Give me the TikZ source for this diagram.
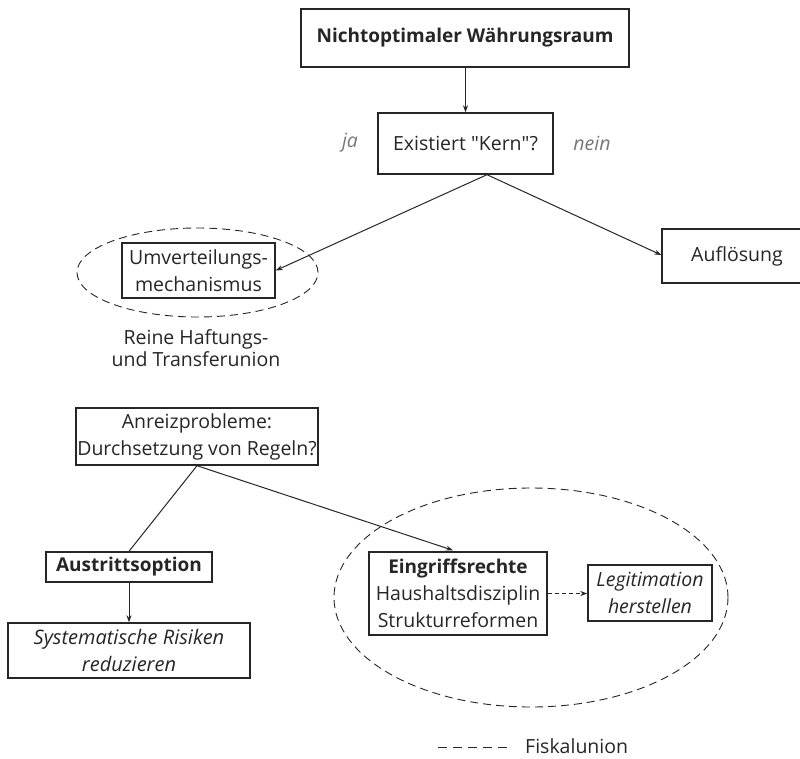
\documentclass[tikz,border=0pt]{standalone}
\usepackage{fontspec}
\setmainfont{Open Sans}
\usetikzlibrary{arrows.meta,calc,shapes.geometric}
\definecolor{ink}{HTML}{262626}
\definecolor{soft}{HTML}{777777}
\begin{document}
\begin{tikzpicture}[x=1pt,y=-1pt,
  every node/.style={text=ink},
  font=\fontsize{19.5}{27}\selectfont,
  boldtxt/.style={font=\fontsize{19}{27}\selectfont\bfseries},
  box/.style={draw=ink, line width=1.4pt, inner sep=0pt, align=center},
  conn/.style={draw=ink, line width=1pt},
  arr/.style={conn, -{Stealth[length=7pt,width=5pt]}},
  dashring/.style={draw=ink, line width=0.9pt, dash pattern=on 8pt off 5pt},
  answer/.style={text=soft, font=\fontsize{19.5}{27}\selectfont\itshape}]
\useasboundingbox (0,0) rectangle (800,758);
\fill[white] (0,0) rectangle (800,758);

% nodes
\node[box, boldtxt, minimum width=328pt, minimum height=58pt] (top) at (465,38) {Nichtoptimaler Währungsraum};
\node[box, minimum width=175pt, minimum height=61pt] (kern) at (465.5,143.5) {Existiert \textquotedbl Kern\textquotedbl ?};
\node[answer] (ja) at (350,143) {ja};
\node[answer] (nein) at (592,143) {nein};

\node[dashring, ellipse, minimum width=241pt, minimum height=89pt, inner sep=0pt] (ring1) at (197.5,272.5) {};
\node[box, minimum width=153pt, minimum height=55pt] (umv) at (198.5,270.5) {Umverteilungs-\\mechanismus};
\node[box, minimum width=150pt, minimum height=54pt] (aufl) at (737,256) {Auflösung};
\node[align=center, font=\fontsize{19.5}{21.5}\selectfont] (reine) at (196,348) {Reine Haftungs-\\und Transferunion};

\node[box, minimum width=242pt, minimum height=57pt] (anreiz) at (197,436.5) {Anreizprobleme:\\Durchsetzung von Regeln?};
\node[box, boldtxt, minimum width=166pt, minimum height=30pt] (austritt) at (129,567) {Austrittsoption};
\node[box, minimum width=242pt, minimum height=55pt, font=\fontsize{20}{27}\selectfont\itshape] (syst) at (129,650.5) {Systematische Risiken\\reduzieren};

\node[dashring, ellipse, minimum width=394pt, minimum height=219pt, inner sep=0pt] (ring2) at (531,597.5) {};
\node[box, minimum width=178pt, minimum height=83pt] (eingriff) at (458,593.5) {{\fontsize{19}{27}\selectfont\bfseries Eingriffsrechte}\\Haushaltsdisziplin\\Strukturreformen};
\node[box, minimum width=124pt, minimum height=56pt, font=\fontsize{19.5}{27}\selectfont\itshape] (legit) at (650,593) {Legitimation\\herstellen};

% legend
\coordinate (legA) at (438,747);
\coordinate (legB) at (508,747);
\node[anchor=west, inner sep=0pt] (fiskal) at (525,746) {Fiskalunion};
\draw[draw=ink, line width=0.9pt, dash pattern=on 9pt off 6pt] (legA) -- (legB);

% connectors
\draw[arr] (top.south -| kern.north) -- (kern.north);
\coordinate (kfork) at ($(kern.south)+(21.5,0)$);
\draw[arr] (kfork) -- (umv.east);
\draw[arr] (kfork) -- (aufl.west |- 0,255);
\draw[conn] (anreiz.south) -- (austritt.north);
\draw[arr] (anreiz.south) -- ($(eingriff.north)+(-5,-1)$);
\draw[arr] (austritt.south) -- (syst.north);
\draw[conn, dash pattern=on 4pt off 3pt, -{Stealth[length=7pt,width=5pt]}] (eingriff.east) -- (legit.west |- eingriff.east);
\end{tikzpicture}
\end{document}
